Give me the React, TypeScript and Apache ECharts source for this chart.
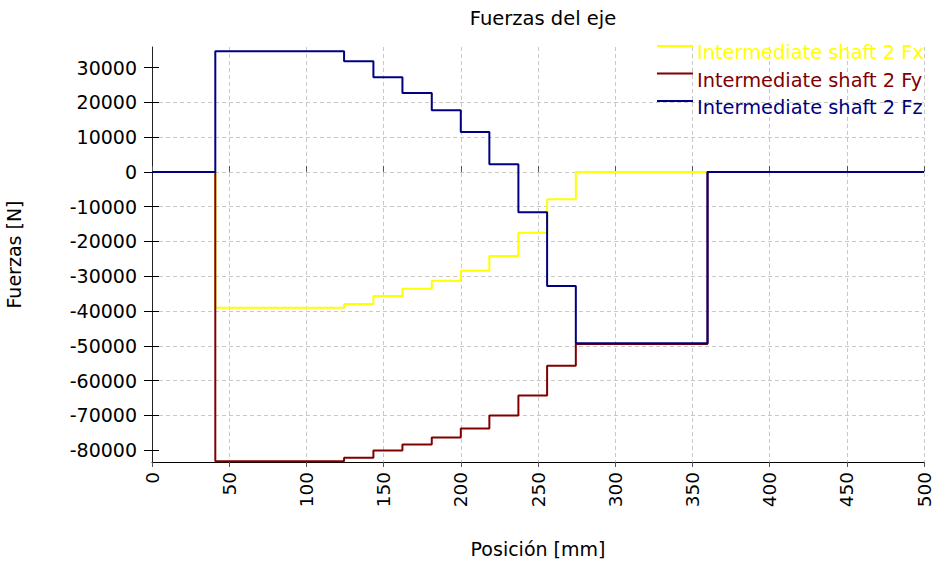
import React, { useEffect, useRef } from "react";
import * as echarts from "echarts";

// Positions (mm) where the force changes
const positions = [0, 41, 124.4, 143.4, 162.2, 181.2, 200, 218.5, 237.3, 255.9, 274.5, 359.8];
const fxValues = [0, -39050, -37980, -35690, -33590, -31290, -28420, -24200, -17510, -7840, 0, 0];
const fyValues = [0, -83200, -82200, -80100, -78380, -76370, -73780, -70050, -64310, -55700, -49470, 0];
const fzValues = [0, 34650, 31780, 27190, 22680, 17710, 11480, 2210, -11570, -32820, -49270, 0];
const fxEnd = 450;
const fyEnd = 450;
const fzEnd = 500;

const yTickValues = [-80000, -70000, -60000, -50000, -40000, -30000, -20000, -10000, 0, 10000, 20000, 30000];

const seriesNames = ["Intermediate shaft 2 Fx", "Intermediate shaft 2 Fy", "Intermediate shaft 2 Fz"];
const seriesColors = ["#ffff00", "#800000", "#000080"];

const FONT = "DejaVu Sans";

function buildPoints(vals: number[], end: number): [number, number][] {
  const pts: [number, number][] = positions.map((x, i) => [x, vals[i]]);
  pts.push([end, vals[vals.length - 1]]);
  return pts;
}

export default function App() {
  const ref = useRef<HTMLDivElement>(null);
  useEffect(() => {
    if (!ref.current) return;
    const chart = echarts.init(ref.current, null, { renderer: "svg" });
    const data = [buildPoints(fxValues, fxEnd), buildPoints(fyValues, fyEnd), buildPoints(fzValues, fzEnd)];
    const yMin = -83400;
    const yMax = 35900;
    const splitLineStyle = { color: "#c8c8c8", type: [4, 3] as any, width: 1 };

    const legendGraphics: any[] = [];
    seriesNames.forEach((n, i) => {
      const lineY = 46 + i * 27.5;
      legendGraphics.push({
        type: "line",
        shape: { x1: 657, y1: lineY, x2: 693, y2: lineY },
        style: { stroke: seriesColors[i], lineWidth: 2 },
        silent: true,
        z: 10,
      });
      legendGraphics.push({
        type: "text",
        x: 697,
        y: lineY + 6.5,
        style: {
          text: n,
          fill: seriesColors[i],
          fontFamily: FONT,
          fontSize: 19.4,
          textAlign: "left",
          textVerticalAlign: "middle",
        },
        silent: true,
        z: 10,
      });
    });

    chart.setOption({
      animation: false,
      backgroundColor: "#ffffff",
      title: {
        text: "Fuerzas del eje",
        left: 538,
        top: 3,
        textAlign: "center",
        textStyle: { fontFamily: FONT, fontSize: 19.5, fontWeight: "normal", color: "#000" },
      },
      graphic: legendGraphics,
      grid: { left: 152, right: 17, top: 47, bottom: 107, containLabel: false, outerBoundsMode: "none" },
      xAxis: [
        {
          type: "value",
          min: 0,
          max: 500,
          interval: 50,
          name: "Posición [mm]",
          nameLocation: "middle",
          nameGap: 77,
          nameTextStyle: { fontFamily: FONT, fontSize: 19, color: "#000" },
          axisLine: { show: true, onZero: false, lineStyle: { color: "#000", width: 1 } },
          axisTick: { show: true, length: 5, lineStyle: { color: "#555" } },
          axisLabel: { rotate: 90, margin: 10, fontFamily: FONT, fontSize: 18.5, color: "#000" },
          splitLine: { show: true, lineStyle: splitLineStyle },
        },
        {
          type: "value",
          min: 0,
          max: 500,
          interval: 50,
          position: "bottom",
          axisLine: { show: false },
          axisTick: { show: true, inside: true, length: 6, lineStyle: { color: "#555" } },
          axisLabel: { show: false },
          splitLine: { show: false },
        },
      ],
      yAxis: [
        {
          type: "value",
          min: yMin,
          max: yMax,
          splitNumber: 12,
          name: "Fuerzas [N]",
          nameLocation: "middle",
          nameGap: 129,
          nameTextStyle: { fontFamily: FONT, fontSize: 19, color: "#000" },
          axisLine: { show: true, onZero: false, lineStyle: { color: "#222", width: 1 } },
          axisTick: { show: true, length: 8, customValues: yTickValues, lineStyle: { color: "#000" } },
          axisLabel: {
            margin: 15,
            fontFamily: FONT,
            fontSize: 19,
            color: "#000",
            customValues: yTickValues,
            formatter: (v: number) => String(v),
          },
          splitLine: { show: true, showMinLine: false, showMaxLine: false, lineStyle: splitLineStyle },
        },
        {
          type: "value",
          min: yMin,
          max: yMax,
          splitNumber: 12,
          position: "left",
          axisLine: { show: false },
          axisTick: { show: true, inside: true, length: 7, customValues: yTickValues, lineStyle: { color: "#000" } },
          axisLabel: { show: false },
          splitLine: { show: false },
        },
      ],
      series: data.map((d, i) => ({
        name: seriesNames[i],
        type: "line",
        step: "end",
        data: d,
        showSymbol: false,
        symbol: "none",
        color: seriesColors[i],
        lineStyle: { color: seriesColors[i], width: 2 },
        emphasis: { disabled: true },
        silent: true,
        z: 2 + i,
      })),
    });
    return () => chart.dispose();
  }, []);
  return <div ref={ref} style={{ width: 941, height: 569, position: "absolute", left: 0, top: 0 }} />;
}
